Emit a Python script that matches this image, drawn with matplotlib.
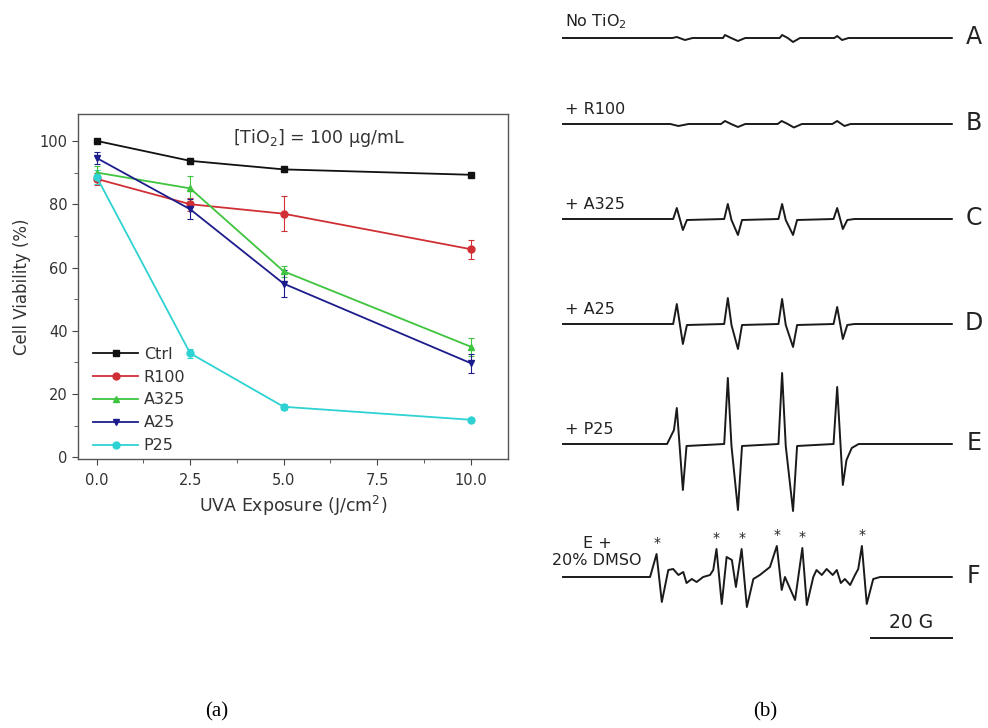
import numpy as np
import matplotlib.pyplot as plt

plt.rcParams['font.family'] = ['DejaVu Sans']

# ---------------- panel (a) data ----------------
uva = [0.0, 2.5, 5.0, 10.0]
series = ['Ctrl', 'R100', 'A325', 'A25', 'P25']
viab = {
    'Ctrl': [100.0, 93.7, 91.0, 89.3],
    'R100': [88.0, 80.0, 77.0, 65.8],
    'A325': [90.0, 85.0, 58.8, 35.0],
    'A25':  [94.6, 78.4, 54.9, 29.8],
    'P25':  [88.6, 32.9, 16.0, 11.9],
}
viab_err = {
    'Ctrl': [0.6, 1.0, 0.8, 0.6],
    'R100': [2.0, 2.0, 5.5, 3.0],
    'A325': [2.0, 4.0, 1.7, 2.8],
    'A25':  [1.8, 3.1, 4.2, 3.0],
    'P25':  [2.3, 1.5, 1.0, 0.7],
}
colors = {'Ctrl': '#111111', 'R100': '#d03035', 'A325': '#3ec43e',
          'A25': '#1c1c8c', 'P25': '#2fd2d2'}
markers = {'Ctrl': 's', 'R100': 'o', 'A325': '^', 'A25': 'v', 'P25': 'o'}

# ---------------- panel (b) data (EPR traces) ----------------
# field in G, amplitude in arbitrary units
trace_names = ['A', 'B', 'C', 'D', 'E', 'F']
trace_labels = ['No TiO$_2$', '+ R100', '+ A325', '+ A25', '+ P25', 'E +\n20% DMSO']
trace_offset = [38, 124, 219, 324, 444, 577]

field_A = [0, 27.0, 28.1, 30.1, 32.0, 39.5, 40.0, 41.5, 43.2, 45.0, 53.5, 54.1, 55.5, 56.8, 58.5, 67.0, 67.7, 68.9, 70.5, 96]
amp_A   = [0, 0, 1, -2, 0, 0, 3, 0, -3, 0, 0, 3, 0, -4, 0, 0, 2, -2, 0, 0]

field_B = [0, 26.5, 28.5, 31.0, 39.0, 40.0, 41.5, 43.2, 45.0, 53.0, 54.0, 55.5, 57.0, 59.0, 66.5, 67.7, 69.5, 71.0, 96]
amp_B   = [0, 0, -2, 0, 0, 3, 0, -3, 0, 0, 3, 0, -3.5, 0, 0, 3, -2, 0, 0]

field_C = [0, 27.2, 28.1, 29.6, 30.6, 39.8, 40.7, 41.6, 43.2, 44.2, 53.2, 54.1, 55.0, 56.8, 57.8, 66.8, 67.7, 69.1, 70.2, 72.0, 96]
amp_C   = [0, 0, 11, -11, -1, 0, 15, -1, -16, -1, 0, 15, -1, -16, -1, 0, 11, -10, -1, 0, 0]

field_D = [0, 27.2, 28.1, 29.6, 30.6, 39.8, 40.7, 41.6, 43.2, 44.2, 53.2, 54.1, 55.0, 56.8, 57.8, 66.8, 67.7, 69.1, 70.2, 72.0, 96]
amp_D   = [0, 0, 20, -20, -1, 0, 26, -1, -25, -1, 0, 25, -1, -23, -1, 0, 17, -15, -1, 0, 0]

field_E = [0, 25.7, 27.4, 28.1, 29.6, 30.5, 39.8, 40.7, 41.6, 43.2, 44.2, 53.2, 54.1, 55.0, 56.8, 57.8, 66.8, 67.7, 69.1, 70.0, 71.3, 73.0, 96]
amp_E   = [0, 0, 14, 36, -46, -2, 0, 66, -2, -66, -2, 0, 71, -2, -67, -2, 0, 57, -41, -16, -4, 0, 0]

field_F = [0, 21.5, 23.1, 24.4, 26.0, 27.2, 28.5, 29.7, 30.5, 31.8, 33.0, 34.6, 36.3, 37.1, 37.9,
           39.2, 40.4, 41.7, 42.7, 44.1, 45.4, 47.0, 48.6, 51.1, 52.8, 54.0, 54.8, 57.3, 59.1,
           60.2, 61.8, 62.6, 63.9, 65.1, 66.6, 67.6, 68.6, 69.6, 70.9, 72.1, 72.9, 73.8, 75.0,
           76.6, 78.3, 96]
amp_F   = [0, 0, 23, -25, 7, 8, 2, 5, -6, -2, -5, 0, 2, 7, 28,
           -27, 20, 17, -10, 28, -30, -2, 2, 10, 31, -13, 0, -23, 29,
           -28, 0, 7, 2, 8, 2, 7, -6, -2, -8, 2, 8, 31, -27,
           -2, 0, 0]
star_field = [23.1, 37.9, 44.1, 52.8, 59.1, 73.8]
star_amp = [23, 28, 28, 31, 29, 31]

fields = [field_A, field_B, field_C, field_D, field_E, field_F]
amps = [amp_A, amp_B, amp_C, amp_D, amp_E, amp_F]

W, H = 988, 728
fig = plt.figure(figsize=(W / 100, H / 100), dpi=100)

# ---------------- panel (a) ----------------
ax = fig.add_axes([78 / W, 1 - 459 / H, (508 - 78) / W, (459 - 114) / H])
for s in series:
    ax.errorbar(uva, viab[s], yerr=viab_err[s], color=colors[s], marker=markers[s],
                ms=5, lw=1.3, elinewidth=0.8, capsize=2.5, capthick=0.8, label=s)

ax.set_xlim(-0.5, 11.0)
ax.set_ylim(-0.5, 108.5)
ax.set_xticks([0, 2.5, 5, 7.5, 10])
ax.set_xticklabels(['0.0', '2.5', '5.0', '7.5', '10.0'])
ax.set_xticks([1.25, 3.75, 6.25, 8.75], minor=True)
ax.set_yticks([0, 20, 40, 60, 80, 100])
ax.set_yticks([10, 30, 50, 70, 90], minor=True)
ax.tick_params(which='both', direction='out', labelsize=10.5, color='#444444', labelcolor='#333333')
ax.tick_params(which='major', length=4)
ax.tick_params(axis='x', pad=6)
ax.tick_params(which='minor', length=3)
for sp in ax.spines.values():
    sp.set_color('#555555')
    sp.set_linewidth(1.0)
ax.set_xlabel('UVA Exposure (J/cm$^2$)', fontsize=12.5, color='#333333', labelpad=4)
ax.set_ylabel('Cell Viability (%)', fontsize=12, color='#333333', labelpad=6)
ax.text(0.56, 0.93, '[TiO$_2$] = 100 \u00b5g/mL', transform=ax.transAxes,
        ha='center', va='center', fontsize=12.5, color='#333333')

handles, labels = ax.get_legend_handles_labels()
handles = [h[0] for h in handles]
ax.legend(handles, labels, loc='lower left', bbox_to_anchor=(0.006, -0.021), frameon=False,
          fontsize=11.5, handlelength=2.8, handletextpad=0.35, labelspacing=0.5,
          borderpad=0.3, labelcolor='#333333')

# ---------------- panel (b) ----------------
bx = fig.add_axes([550 / W, 0, (W - 550) / W, 1])
bx.set_xlim(-3.21, 104.94)
bx.set_ylim(-H, 0)
bx.axis('off')

for i in range(len(trace_names)):
    y = np.array(amps[i]) - trace_offset[i]
    bx.plot(fields[i], y, color='#1a1a1a', lw=1.4, solid_joinstyle='round')
    bx.text(101.4, -trace_offset[i] + 1, trace_names[i], ha='center', va='center',
            fontsize=17, color='#222222')

for i in range(5):
    bx.text(0.4, -trace_offset[i] + 7, trace_labels[i], ha='left', va='bottom',
            fontsize=11.5, color='#222222')
bx.text(8.4, -trace_offset[5] + 9, trace_labels[5], ha='center', va='bottom',
        fontsize=11.5, color='#222222', linespacing=1.2)

for f, a in zip(star_field, star_amp):
    bx.text(f, a + 11 - trace_offset[5], '*', ha='center', va='center', fontsize=10, color='#222222')

# scale bar: 20 G
bx.plot([76.0, 96.0], [-638, -638], color='#1a1a1a', lw=1.4)
bx.text(86.0, -622, '20 G', ha='center', va='center', fontsize=13.5, color='#222222')

# ---------------- captions ----------------
fig.text(217 / W, 1 - 712 / H, '(a)', ha='center', va='center', fontsize=15,
         family='Liberation Serif')
fig.text(765 / W, 1 - 712 / H, '(b)', ha='center', va='center', fontsize=15,
         family='Liberation Serif')

fig.savefig('out.png', dpi=100)
